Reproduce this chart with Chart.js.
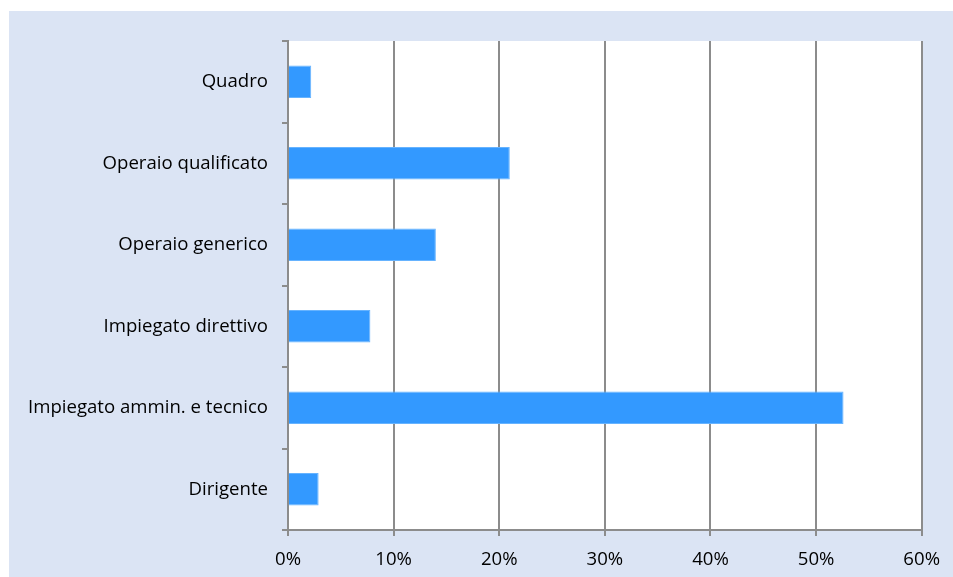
<!DOCTYPE html>
<html>
<head>
<meta charset="utf-8">
<script src="https://cdn.jsdelivr.net/npm/chart.js@4"></script>
<style>
  body { margin: 0; background: #ffffff; }
  #box { position: absolute; left: 9px; top: 11px; width: 944px; height: 566px; background: #dbe4f4; }
</style>
</head>
<body>
<div id="box"><canvas id="jobChart"></canvas></div>
<script>
const categories = ['Quadro', 'Operaio qualificato', 'Operaio generico', 'Impiegato direttivo', 'Impiegato ammin. e tecnico', 'Dirigente'];
const shares = [2.2, 21.0, 14.0, 7.8, 52.6, 2.9];
const xTicks = [0, 10, 20, 30, 40, 50, 60];

const gridGray = '#8c8c8c';
const font = { family: 'Open Sans', size: 18.6 };

// white plot area, like the spreadsheet original
const plotBackground = {
    id: 'plotBackground',
    beforeDraw(chart) {
        const { ctx, chartArea } = chart;
        ctx.save();
        ctx.fillStyle = '#ffffff';
        ctx.fillRect(chartArea.left, chartArea.top, chartArea.right - chartArea.left, chartArea.bottom - chartArea.top);
        ctx.restore();
    }
};

const jobCtx = document.getElementById('jobChart').getContext('2d');

const jobChart = new Chart(jobCtx, {
    type: 'bar',
    data: {
        labels: categories,
        datasets: [{
            label: 'Quota',
            data: shares,
            backgroundColor: '#3399ff',
            borderColor: '#66b3ff',
            borderWidth: 1,
            barPercentage: 0.4,
            categoryPercentage: 1
        }]
    },
    options: {
        indexAxis: 'y',
        responsive: true,
        maintainAspectRatio: false,
        animation: false,
        layout: { padding: { top: 30, right: 31, left: 0, bottom: 0 } },
        plugins: {
            legend: { display: false },
            tooltip: { enabled: false }
        },
        scales: {
            x: {
                min: 0,
                max: 60,
                afterBuildTicks: (scale) => { scale.ticks = xTicks.map(v => ({ value: v })); },
                afterFit: (scale) => { scale.height = 47; },
                grid: { color: gridGray, lineWidth: 2, tickLength: 6, drawTicks: true },
                border: { color: gridGray, width: 2 },
                ticks: {
                    color: '#000000',
                    font: font,
                    padding: 13,
                    maxRotation: 0,
                    callback: (v) => v + '%'
                }
            },
            y: {
                afterFit: (scale) => { scale.width = 279; },
                grid: { drawOnChartArea: false, color: gridGray, lineWidth: 2, tickLength: 6, offset: true },
                border: { color: gridGray, width: 2 },
                ticks: { color: '#000000', font: font, padding: 14 }
            }
        }
    },
    plugins: [plotBackground]
});
</script>
</body>
</html>
